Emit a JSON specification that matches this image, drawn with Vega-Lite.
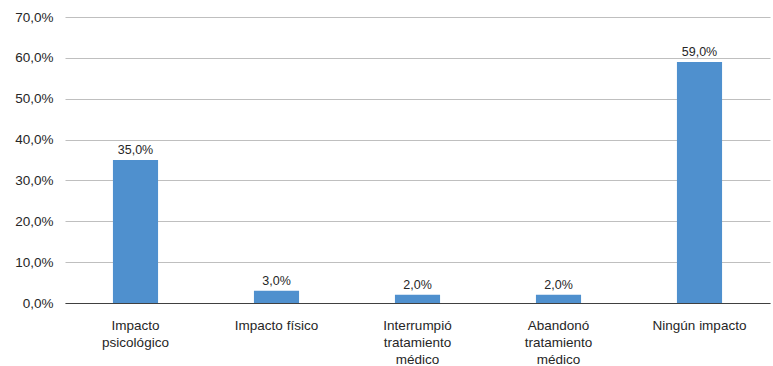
{
  "$schema": "https://vega.github.io/schema/vega-lite/v6.json",
  "width": 773,
  "height": 366,
  "autosize": {"type": "fit", "contains": "padding"},
  "padding": {"left": 14, "top": 10, "right": 3, "bottom": 0},
  "background": "white",
  "data": {"values": [
    {"categoria": "Impacto psicológico", "valor": 0.35},
    {"categoria": "Impacto físico", "valor": 0.03},
    {"categoria": "Interrumpió tratamiento médico", "valor": 0.02},
    {"categoria": "Abandonó tratamiento médico", "valor": 0.02},
    {"categoria": "Ningún impacto", "valor": 0.59}
  ]},
  "config": {
    "view": {"stroke": null},
    "font": "Liberation Sans",
    "locale": {"number": {"decimal": ",", "thousands": ".", "grouping": [3], "currency": ["", " €"]}}
  },
  "encoding": {
    "x": {
      "field": "categoria", "type": "nominal", "sort": null,
      "scale": {"paddingInner": 0.68, "paddingOuter": 0.34},
      "axis": {
        "title": null, "labelAngle": 0, "ticks": false, "domainColor": "#404040",
        "labelFont": "Liberation Sans", "labelFontSize": 13.5, "labelColor": "#262626",
        "labelPadding": 15, "labelLineHeight": 17, "labelLimit": 200,
        "labelExpr": "datum.value == 'Impacto psicológico' ? ['Impacto','psicológico'] : datum.value == 'Interrumpió tratamiento médico' ? ['Interrumpió','tratamiento','médico'] : datum.value == 'Abandonó tratamiento médico' ? ['Abandonó','tratamiento','médico'] : datum.value"
      }
    },
    "y": {
      "field": "valor", "type": "quantitative",
      "scale": {"domain": [0, 0.7], "nice": false},
      "axis": {
        "title": null, "values": [0, 0.1, 0.2, 0.3, 0.4, 0.5, 0.6, 0.7],
        "format": ".1%",
        "domain": false, "ticks": false, "gridColor": "#bfbfbf", "gridWidth": 1,
        "labelFont": "Liberation Sans", "labelFontSize": 13.5, "labelColor": "#262626",
        "labelPadding": 12
      }
    }
  },
  "layer": [
    {"mark": {"type": "bar", "color": "#4F90CE"}},
    {
      "mark": {"type": "text", "dy": -10, "font": "Liberation Sans", "fontSize": 12.5, "color": "#262626"},
      "encoding": {"text": {"field": "valor", "type": "quantitative", "format": ".1%"}}
    }
  ]
}
